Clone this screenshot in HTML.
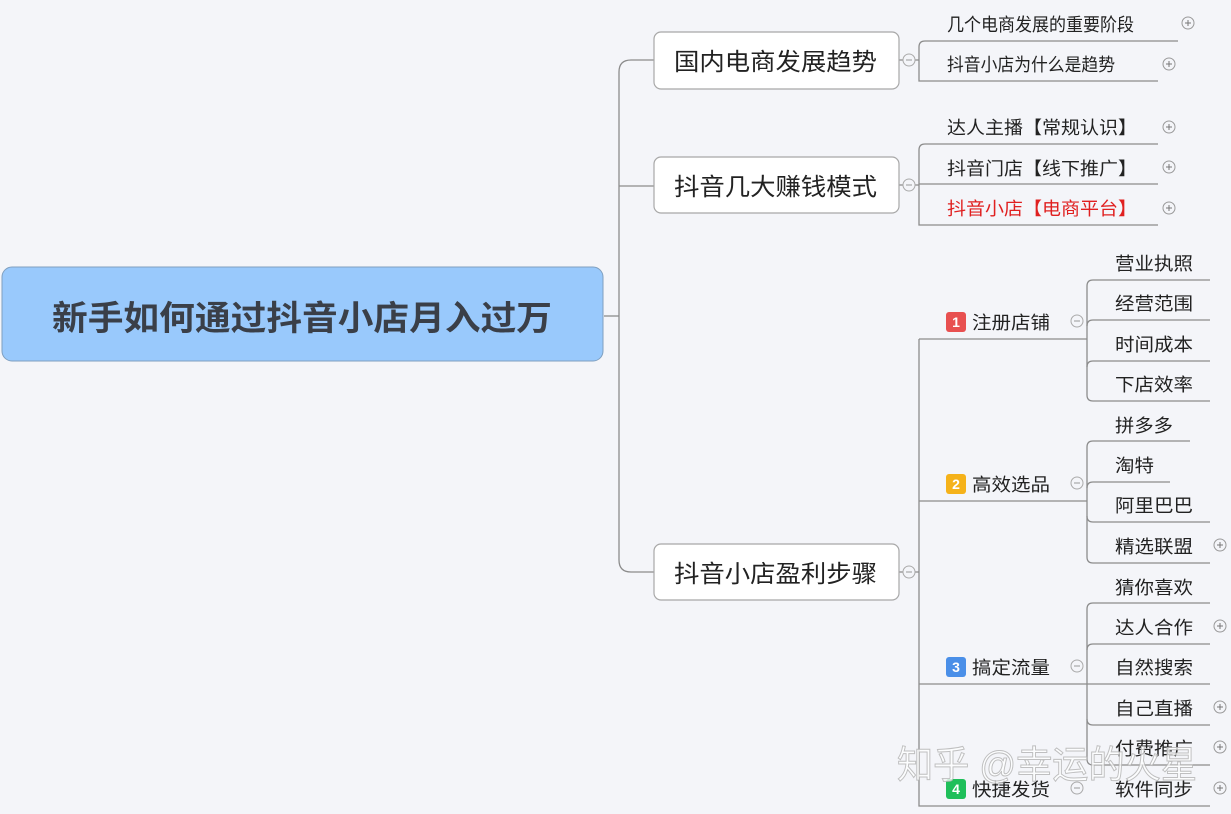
<!DOCTYPE html>
<html><head><meta charset="utf-8"><style>
html,body{margin:0;padding:0;background:#f4f5f9;}
svg{display:block;}
text{font-family:"Liberation Sans","Noto Sans CJK SC",sans-serif;fill:#222;}
</style></head><body>
<svg width="1231" height="814" viewBox="0 0 1231 814" xmlns="http://www.w3.org/2000/svg">
<rect width="1231" height="814" fill="#f4f5f9"/>
<g fill="none" stroke="#8c8c8c" stroke-width="1.3">
<path d="M604 316 H619"/>
<path d="M654 60 H631 Q619 60 619 72 V560 Q619 572 631 572 H654"/>
<path d="M619 186 H654"/>
<path d="M899 60 H919"/>
<path d="M1178 41 H925 Q919 41 919 47 V81 H1158"/>
<path d="M899 185 H919"/>
<path d="M1158 144 H925 Q919 144 919 150 V225 H1158"/>
<path d="M919 184 H1158"/>
<path d="M899 572 H919"/>
<path d="M919 339 V806 H1087"/>
<path d="M919 339 H1087"/>
<path d="M919 501 H1087"/>
<path d="M919 684 H1087"/>
<path d="M1210 280 H1093 Q1087 280 1087 286 V395 Q1087 401 1093 401 H1210"/>
<path d="M1093 320 Q1087 320 1087 326"/><path d="M1093 320 H1210"/>
<path d="M1093 361 Q1087 361 1087 367"/><path d="M1093 361 H1210"/>
<path d="M1190 441 H1093 Q1087 441 1087 447 V557 Q1087 563 1093 563 H1210"/>
<path d="M1093 482 Q1087 482 1087 488"/><path d="M1093 482 H1170"/>
<path d="M1093 522 H1210"/><path d="M1093 522 Q1087 522 1087 516"/>
<path d="M1210 603 H1093 Q1087 603 1087 609 V759 Q1087 765 1093 765 H1210"/>
<path d="M1093 644 H1210"/><path d="M1093 644 Q1087 644 1087 650"/>
<path d="M1087 684 H1210"/>
<path d="M1093 725 H1210"/><path d="M1093 725 Q1087 725 1087 719"/>
<path d="M1087 806 H1210"/>
</g>
<rect x="2" y="267" width="601" height="94" rx="10" fill="#99c9fc" stroke="#7f9fbf" stroke-width="1"/>
<text x="302" y="330" font-size="34" font-weight="bold" text-anchor="middle" textLength="500" lengthAdjust="spacingAndGlyphs" style="fill:#3a3f48">新手如何通过抖音小店月入过万</text>
<g fill="#fff" stroke="#a8a8a8" stroke-width="1.2">
<rect x="654" y="32" width="245" height="57" rx="7"/>
<rect x="654" y="157" width="245" height="56" rx="7"/>
<rect x="654" y="544" width="245" height="56" rx="7"/>
</g>
<g font-size="24">
<text x="674" y="70" textLength="203" lengthAdjust="spacingAndGlyphs">国内电商发展趋势</text>
<text x="674" y="195" textLength="203" lengthAdjust="spacingAndGlyphs">抖音几大赚钱模式</text>
<text x="674" y="582" textLength="203" lengthAdjust="spacingAndGlyphs">抖音小店盈利步骤</text>
</g>
<g fill="#f4f5f9" stroke="#aaa" stroke-width="1">
<circle cx="909" cy="60" r="6"/><circle cx="909" cy="185" r="6"/><circle cx="909" cy="572" r="6"/>
<circle cx="1077" cy="321" r="6"/><circle cx="1077" cy="483" r="6"/><circle cx="1077" cy="666" r="6"/><circle cx="1077" cy="788" r="6"/>
</g>
<g stroke="#999" stroke-width="1">
<path d="M906 60h6M906 185h6M906 572h6M1074 321h6M1074 483h6M1074 666h6M1074 788h6"/>
</g>
<g font-size="18">
<text x="947" y="31" textLength="187" lengthAdjust="spacingAndGlyphs">几个电商发展的重要阶段</text>
<text x="947" y="71" textLength="168" lengthAdjust="spacingAndGlyphs">抖音小店为什么是趋势</text>
<text x="947" y="134" textLength="190" lengthAdjust="spacingAndGlyphs">达人主播【常规认识】</text>
<text x="947" y="175" textLength="190" lengthAdjust="spacingAndGlyphs">抖音门店【线下推广】</text>
<text x="947" y="215" textLength="190" lengthAdjust="spacingAndGlyphs" style="fill:#e02020">抖音小店【电商平台】</text>
<text x="972" y="329" textLength="78" lengthAdjust="spacingAndGlyphs">注册店铺</text>
<text x="972" y="491" textLength="78" lengthAdjust="spacingAndGlyphs">高效选品</text>
<text x="972" y="674" textLength="78" lengthAdjust="spacingAndGlyphs">搞定流量</text>
<text x="972" y="796" textLength="78" lengthAdjust="spacingAndGlyphs">快捷发货</text>
</g>
<rect x="946" y="312" width="20" height="20" rx="3" fill="#e85050"/>
<rect x="946" y="474" width="20" height="20" rx="3" fill="#f5b21a"/>
<rect x="946" y="657" width="20" height="20" rx="3" fill="#4a8fe8"/>
<rect x="946" y="779" width="20" height="20" rx="3" fill="#1fbf5a"/>
<g font-size="14" font-weight="bold" text-anchor="middle">
<text x="956" y="327" style="fill:#fff">1</text>
<text x="956" y="489" style="fill:#fff">2</text>
<text x="956" y="672" style="fill:#fff">3</text>
<text x="956" y="794" style="fill:#fff">4</text>
</g>
<g font-size="18">
<text x="1115" y="270" textLength="78" lengthAdjust="spacingAndGlyphs">营业执照</text>
<text x="1115" y="310" textLength="78" lengthAdjust="spacingAndGlyphs">经营范围</text>
<text x="1115" y="351" textLength="78" lengthAdjust="spacingAndGlyphs">时间成本</text>
<text x="1115" y="391" textLength="78" lengthAdjust="spacingAndGlyphs">下店效率</text>
<text x="1115" y="432" textLength="58" lengthAdjust="spacingAndGlyphs">拼多多</text>
<text x="1115" y="472" textLength="39" lengthAdjust="spacingAndGlyphs">淘特</text>
<text x="1115" y="512" textLength="78" lengthAdjust="spacingAndGlyphs">阿里巴巴</text>
<text x="1115" y="553" textLength="78" lengthAdjust="spacingAndGlyphs">精选联盟</text>
<text x="1115" y="594" textLength="78" lengthAdjust="spacingAndGlyphs">猜你喜欢</text>
<text x="1115" y="634" textLength="78" lengthAdjust="spacingAndGlyphs">达人合作</text>
<text x="1115" y="674" textLength="78" lengthAdjust="spacingAndGlyphs">自然搜索</text>
<text x="1115" y="715" textLength="78" lengthAdjust="spacingAndGlyphs">自己直播</text>
<text x="1115" y="755" textLength="78" lengthAdjust="spacingAndGlyphs">付费推广</text>
<text x="1115" y="796" textLength="78" lengthAdjust="spacingAndGlyphs">软件同步</text>
</g>
<g fill="#f4f5f9" stroke="#999" stroke-width="1">
<circle cx="1188" cy="23" r="6"/><circle cx="1169" cy="64" r="6"/>
<circle cx="1169" cy="127" r="6"/><circle cx="1169" cy="167" r="6"/><circle cx="1169" cy="208" r="6"/>
<circle cx="1220" cy="545" r="6"/><circle cx="1220" cy="626" r="6"/><circle cx="1220" cy="707" r="6"/><circle cx="1220" cy="747" r="6"/><circle cx="1220" cy="788" r="6"/>
</g>
<g stroke="#777" stroke-width="1">
<path d="M1185 23h6M1188 20v6M1166 64h6M1169 61v6M1166 127h6M1169 124v6M1166 167h6M1169 164v6M1166 208h6M1169 205v6M1217 545h6M1220 542v6M1217 626h6M1220 623v6M1217 707h6M1220 704v6M1217 747h6M1220 744v6M1217 788h6M1220 785v6"/>
</g>
<text x="897" y="778" font-size="38" textLength="300" lengthAdjust="spacingAndGlyphs" style="fill:#ffffff;fill-opacity:0.75;stroke:#b0b0b0;stroke-width:1;stroke-opacity:0.8">知乎 @幸运的火星</text>
</svg>
</body></html>
